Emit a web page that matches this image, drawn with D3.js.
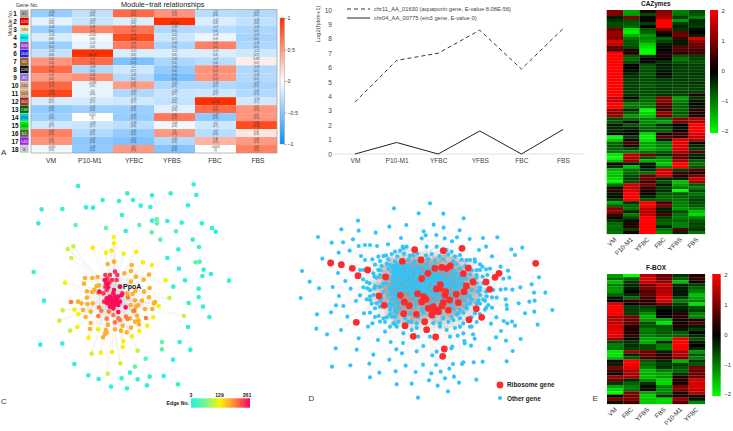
<!DOCTYPE html>
<html><head><meta charset="utf-8">
<script src="https://cdn.jsdelivr.net/npm/d3@7/dist/d3.min.js"></script>
<style>html,body{margin:0;padding:0;background:#fff}svg{display:block}text{font-family:"Liberation Sans",Arial,sans-serif}</style>
</head><body><svg id="c" width="733" height="431"></svg>
<script>
// ---------- Panel A ----------
const traits=["VM","P10-M1","YFBC","YFBS","FBC","FBS"];
const moduleGenes=["81","120","190","664","326","204","55","226","40","240","553","202","118","294","160","51","145","8"];
const moduleColors=["#a8a8a8","#e00000","#f5e6b0","#00ffff","#a040c0","#2020e0","#a0602a","#111111","#9370db","#d2b48c","#d8a878","#a52a2a","#006400","#00ced1","#00ee00","#556b2f","#a020f0","#c8c8c8"];
const moduleTrait=[
[-0.43,-0.26,0.72,0.51,-0.3,-0.32],[-0.11,-0.23,-0.15,1,-0.15,-0.26],[-0.42,0.58,0.67,-0.33,-0.3,-0.35],
[-0.16,-0.052,0.87,-0.21,-0.09,-0.37],[-0.41,-0.11,0.64,-0.35,0.61,-0.34],[-0.25,1,-0.15,-0.15,-0.15,-0.21],
[0.51,0.72,-0.53,-0.35,-0.3,0.085],[0.72,-0.33,-0.2,-0.45,0.53,-0.33],[0.47,0.53,-0.31,-0.55,0.51,-0.32],
[0.73,-0.093,0.47,-0.33,-0.33,-0.37],[0.89,-0.1,-0.33,-0.23,-0.21,-0.32],[-0.17,-0.17,-0.19,-0.25,1,-0.19],
[-0.45,-0.41,-0.42,-0.13,0.71,0.51],[-0.4,0.012,-0.43,0.65,-0.47,0.51],[-0.2,-0.23,-0.28,-0.06,-0.2,0.88],
[0.62,-0.32,-0.45,0.5,-0.3,0.12],[0.51,-0.47,-0.52,-0.32,0.36,0.49],[-0.063,-0.46,0.5,-0.51,-0.0025,0.61]];
const moduleP=[
["0.4","0.6","0.1","0.3","0.6","0.5"],["0.8","0.7","0.8","3e-08","0.8","0.6"],["0.4","0.2","0.1","0.5","0.6","0.5"],
["0.8","0.9","0.02","0.7","0.9","0.5"],["0.4","0.8","0.2","0.5","0.2","0.5"],["0.6","3e-08","0.8","0.8","0.8","0.7"],
["0.3","0.1","0.3","0.5","0.6","0.9"],["0.1","0.5","0.7","0.4","0.3","0.5"],["0.3","0.3","0.5","0.3","0.3","0.5"],
["0.1","0.9","0.3","0.5","0.5","0.5"],["0.02","0.8","0.5","0.7","0.7","0.5"],["0.7","0.7","0.7","0.6","3e-08","0.7"],
["0.4","0.4","0.4","0.8","0.1","0.3"],["0.4","1","0.4","0.2","0.3","0.3"],["0.7","0.7","0.6","0.9","0.7","0.02"],
["0.2","0.5","0.4","0.3","0.6","0.8"],["0.3","0.3","0.3","0.5","0.5","0.3"],["0.9","0.4","0.3","0.3","1","0.2"]];
const corrTicks=[1,0.5,0,-0.5,-1];
// ---------- Panel B ----------
const lineCats=["VM","P10-M1","YFBC","YFBS","FBC","FBS"];
const aquaporin=[3.6,6.5,7,8.6,5.9,8.7];
const ein3=[0,0.8,0,1.6,0,1.7];
const lineNames=["chr11_AA_01630 (aquaporin gene, E-value 8.08E-56)","chr04_AA_00775 (ein3 gene, E-value 0)"];
// ---------- Panel E ----------
const cazCols=["VM","P10-M1","YFBC","FBC","YFBS","FBS"];
const cazymes=[
[1,-1.3,.3,1,-1,-.6],[1,-1.2,-.6,1.2,-.9,-.7],[-.2,1,-.1,1.3,-.5,-1],[-.4,-.6,.1,2,-1.2,-.3],[-.6,-.7,-.5,2,-.5,-.4],[-.6,-.8,0,2,-.3,-.5],
[.9,-1.8,-.7,1,-.4,-.1],[1.2,-1.9,-.8,.2,.8,0],[1.2,-1.4,-1.2,0,.9,-.2],[1,-.9,-1,-.8,.5,1.7],[1.7,-.7,-1.2,-.5,-.2,1.1],[1.6,-.7,-1.6,-.2,-.2,.9],
[.7,-.6,-1.8,-.1,.7,.8],[.7,.3,-2,0,.6,.5],[2,.3,-2,.2,.4,.5],[2,-.7,-.3,.2,-.7,-.5],[2,-.8,.1,0,-.9,-.5],[2,-.6,-.1,-.4,-.7,-.7],
[2,0,-.6,-.2,-.4,-.5],[2,0,-.7,-.3,-.5,-.5],[2,-.1,-.6,-.2,-.5,-.5],[2,-.3,-.7,-.1,-.5,-.4],[2,-.4,-.6,-.2,-.5,-.5],[2,-.5,-.6,-.5,-.5,-.5],
[2,-.5,-.6,-.5,-.5,-.4],[2,-.5,-.7,-.5,-.5,-.5],[2,-.5,-.6,-.5,-.6,-.5],[2,-.5,-.6,-.5,-.5,-.5],[2,-.4,-.6,-.4,-.5,.3],[1.6,-.1,-.8,1,-1.3,-.4],
[1.6,-.5,-.8,1.1,-1,-.2],[2,-1,-1,.7,-.8,0],[2,-.9,-1,.6,-.8,-.2],[1.2,-.3,-2,.5,-.8,.4],[1.1,-.7,-1.7,1.2,-.7,.2],[1.2,-1.2,-1.5,.8,-.8,.2],
[-.6,-.8,-1,-.8,1,1.4],[-.7,0,-1.1,-1.3,1,1.3],[-.2,-.7,-.9,-.3,0,2],[-.3,-.3,-.8,-.6,-.1,2],[-.3,-.1,-.7,-.8,.1,2],[.1,0,-1.7,.2,.5,1.7],
[-2,-.5,-1.9,.7,.4,1.6],[-1.6,.2,-1.8,-.2,1.7,1.4],[-.8,.5,-1.3,-1,1.8,.1],[-.7,.3,-1.3,-1,1.7,-.3],[-.8,-.6,-1.4,-1.2,1.7,-.5],[-.9,-1,-.9,-.7,1.4,.7],
[-1.8,1.5,.9,-.4,.8,-.3],[-2,1.4,-.6,-1,.8,-.2],[-1.5,1.2,-1.4,-1.3,1.3,-.7],[.2,-.2,-.2,-1.6,2,-.9],[-.3,-1.5,-.1,-1,2,-.7],[-1.4,-.9,-.4,1.5,-.5,.7],
[-1.6,-.8,-.9,1.7,.5,.2],[-1.5,-.6,.8,1.6,.3,.9],[-1.7,-.5,.9,-.3,-.2,1.6],[-1.9,-.6,.5,-.7,-1.5,1.3],[-.9,1.6,1,-.2,-1.3,-.7],[-.2,1.6,.4,-.5,-.9,-1],
[.4,1.7,.2,-.4,-2,-.5],[-.2,2,.1,-.7,-.7,-.9],[-.1,2,-.3,-.8,-.8,-.7],[-.5,2,-.7,-.8,-.9,-.5],[-1.3,-.4,2,.6,-1,-.6],[-.8,-.8,2,1,-1,-.7],
[1,-.9,1.5,-.2,-1.2,-1],[1.2,-.3,1.5,-.2,-.6,-1.5],[.5,-1,1.5,.5,-.9,-1.7],[-.1,-.6,2,-.5,-1,-1],[-.4,-.1,2,-.7,-.8,-.7],[-.8,.2,2,-.8,-1,-.5],
[-.9,.3,2,-.3,-1,-.6],[-.8,-.5,2,-.9,.6,-.4],[-.9,.2,2,-1.1,-.3,-.9]];
const fboxCols=["VM","FBC","YFBS","FBS","P10-M1","YFBC"];
const fbox=[
[-1.2,-2,1.4,.8,-.4,.3],[-.9,-.7,1.7,.8,-.7,.4],[-1.5,-.4,1.6,1.2,-1.5,.1],[-1,-.3,.9,1.5,-.3,-.5],[-1.2,-.2,1,1.4,-.2,-.8],[-1.2,0,.6,1.4,-.2,-1],
[-.8,-.3,.8,1.5,-.2,-1.5],[-.2,-.8,.5,1.7,-.5,-1.3],[0,.4,.3,1.7,-1,-1],[1.7,.1,.4,.8,-.5,-1.8],[2,-.5,-.5,-.2,-.3,-.7],[2,-.5,-.7,0,-.2,-.5],
[2,-.5,-1.1,0,.3,-1],[1.3,.9,-1.4,0,.3,-1.1],[1.4,.8,-1.2,-1.3,.2,.3],[1.5,.7,-.6,-1.8,.1,.6],[1.7,.3,-.7,-.7,.3,-.2],[1.8,.3,-1,-.7,-.2,-.5],
[1.8,.2,-.9,-.7,-.7,0],[1.8,.4,-1,-.8,-.8,-.3],[1.2,-.1,-1.3,-1.3,1.8,-.6],[-.6,-.4,-1.4,-.3,2,-.2],[-1,-.4,-.6,-1,2,0],[-.9,-.5,-.6,-1,2,-.3],
[-1.8,1.3,.9,-.3,1.4,-1.2],[-1.8,-.3,.8,.3,1.4,-.7],[-1.5,-.7,.6,.4,1,-1],[.2,2,-.7,-.3,-1.4,-.4],[-.3,2,-.8,-.5,-.5,-.7],[1,1.8,-1,-.4,-.7,1],
[.5,1.4,-1.5,-1,-.8,.8],[.1,1.3,-1.4,-1.3,-.4,.8],[1.2,1.3,-1.5,-1.2,.3,.9],[.8,-.3,-1.1,-1.7,.3,1.7],[-.4,-.8,-.4,-1.7,.2,1.7],[-1.3,-1,-.1,-1,1,1.7],
[-1.7,-.9,.2,-1.1,1,1.5],[-2,1,-1.3,-1,.2,1.5],[.1,.9,-1.6,-.4,.2,.2],[1,1,-1.6,-1.7,1.2,-.2],[-.2,.5,-1.6,-1.7,.7,-1.1]];
const zTicks=[2,1,0,-1,-2];
// ---------- Panel C: network layout (layout units) per Edge No. class ----------
const edgeNoTicks=[3,129,261];
const cGroups=[
{edges:12,pts:[[234,18],[581,13],[382,40],[456,46],[512,40],[589,45],[308,60],[357,63],[399,60],[564,76],[125,88],[187,87],[258,82],[279,83],[451,81],[366,105],[115,130],[377,153],[502,123],[545,128],[606,130],[647,155],[578,179],[535,208],[502,234],[537,266],[555,301],[687,302],[520,320],[596,351],[609,380],[628,411],[101,276],[132,362],[121,494],[187,491],[539,486],[571,509],[519,539],[223,552],[390,578],[449,590],[491,588],[534,613],[296,597],[365,595],[413,598],[441,616],[333,620],[381,625],[265,586],[597,201],[611,269],[607,288],[633,282],[596,326],[564,441],[566,369],[456,122],[636,144],[422,77]]},
{edges:45,pts:[[470,118],[471,130],[481,179],[587,247],[599,245],[227,135],[318,144],[418,135],[455,157],[528,154],[486,486],[486,508],[437,536],[405,560]]},
{edges:105,pts:[[203,207],[220,199],[214,234],[188,391],[178,422],[210,452],[275,521],[361,550],[323,581],[413,512],[552,408],[508,354]]},
{edges:132,pts:[[341,171],[342,190],[278,203],[318,218],[334,212],[371,221],[409,215],[429,247],[456,255],[497,301],[476,378],[460,412],[442,437],[418,453],[396,469],[370,484],[368,501],[195,308],[223,389],[235,403],[266,473],[294,448],[232,441],[302,518],[336,516]]},
{edges:170,pts:[[323,252],[342,245],[395,255],[393,273],[373,280],[447,284],[408,290],[393,305],[431,299],[449,324],[432,335],[255,294],[277,294],[293,291],[252,311],[290,318],[297,316],[261,334],[277,336],[283,329],[261,353],[295,339],[234,365],[244,370],[262,372],[278,370],[249,390],[272,395],[257,411],[272,429],[270,447],[324,434],[345,448],[318,450],[315,462],[320,458],[309,472],[363,452],[380,457],[393,443],[368,437],[415,421],[417,433],[405,425],[390,415],[411,407],[435,387],[457,387],[465,366],[462,370],[447,352],[426,362],[405,361],[392,375],[399,393],[408,380],[415,375],[382,340],[398,342],[406,333]]},
{edges:200,pts:[[213,366],[297,382],[295,408],[304,392],[320,416],[345,427],[403,392],[384,352],[438,414],[355,415],[360,420],[383,417],[378,410],[327,395],[340,405]]},
{edges:236,pts:[[316,285],[322,296],[330,285],[345,275],[352,285],[350,300],[336,300],[318,310],[328,308],[316,320],[320,330],[312,365],[310,340],[367,340],[325,370]]},
{edges:256,pts:[[340,340],[330,350],[320,355],[335,365],[350,360],[345,375],[330,380],[340,385],[355,350],[365,345],[360,365],[335,355],[345,350],[350,370],[340,370],[338,360],[328,362],[345,362],[355,375],[335,375],[320,368],[298,335],[377,382],[355,396],[322,312],[324,322],[314,300],[342,330]]}];
const ppoA={name:"PpoA",edges:261,pt:[360,320]};
// ---------- Panel D: network layout (layout units) ----------
const otherGenes=[[450,70],[342,85],[416,100],[490,101],[551,115],[234,122],[461,134],[379,135],[328,140],[491,143],[184,148],[236,152],[287,158],[431,154],[539,151],[114,171],[219,178],[155,188],[189,187],[437,166],[469,165],[363,174],[494,175],[425,175],[516,184],[531,172],[569,177],[609,174],[652,172],[618,200],[597,210],[694,208],[727,203],[705,225],[636,229],[584,238],[662,260],[684,272],[777,292],[755,313],[721,322],[796,338],[762,338],[817,390],[773,434],[735,400],[763,395],[748,365],[764,362],[716,370],[680,375],[677,358],[697,329],[677,327],[662,329],[688,293],[670,296],[630,266],[618,268],[607,260],[622,285],[608,290],[236,198],[255,195],[270,195],[291,198],[324,193],[368,200],[209,212],[176,218],[243,228],[127,236],[66,273],[174,279],[89,305],[117,325],[158,321],[196,303],[212,326],[62,354],[177,348],[228,363],[168,376],[190,378],[111,403],[153,397],[202,410],[252,400],[109,446],[183,450],[141,463],[264,440],[277,430],[236,475],[167,505],[230,509],[294,480],[280,524],[156,560],[211,556],[268,551],[328,539],[349,508],[366,520],[332,486],[369,489],[415,470],[430,498],[410,514],[457,526],[470,515],[514,505],[517,500],[533,467],[553,483],[554,490],[579,463],[573,497],[584,476],[628,506],[648,472],[663,453],[678,482],[722,477],[698,513],[680,544],[608,545],[581,547],[550,547],[546,552],[519,552],[508,566],[468,555],[429,554],[377,557],[347,574],[298,578],[270,592],[407,576],[454,580],[482,575],[495,595],[522,590],[537,608],[589,599],[447,601],[395,611],[350,613],[473,617],[504,634],[414,653],[705,437],[696,425],[671,423],[682,430],[633,431],[649,412],[681,387],[636,383],[619,383],[615,362],[636,352],[650,353],[618,335],[640,330],[600,330],[590,310],[610,310],[590,370],[585,400],[570,370],[560,385],[535,400],[520,420],[540,440],[500,450],[480,430],[550,460],[570,440],[510,470],[450,470],[395,450],[370,460],[315,455],[345,433],[330,440],[300,425],[296,408],[320,412],[335,410],[355,425],[410,430],[385,425],[460,410],[480,400],[250,270],[262,272],[277,238],[295,230],[310,228],[255,240],[240,270],[249,298],[283,290],[268,310],[262,325],[283,325],[300,320],[320,310],[303,355],[280,345],[270,360],[290,370],[300,380],[330,380],[345,395],[330,370],[300,270],[330,255],[345,215],[360,212],[370,205],[380,200],[400,225],[440,200],[470,200],[500,210],[515,215],[540,225],[560,240],[570,240],[600,270],[590,285],[575,270],[540,290],[530,300],[510,295],
[318,226],[335,222],[352,229],[372,221],[390,227],[412,220],[438,226],[455,222],[478,228],[505,224],[525,229],
[300,243],[325,238],[345,244],[385,239],[405,245],[445,238],[465,243],[490,237],[520,244],[545,239],[585,245],
[285,254],[305,258],[320,251],[340,258],[360,252],[380,257],[400,251],[420,259],[440,253],[460,257],[530,252],[555,258],[600,253],
[295,270],[325,266],[345,271],[362,265],[378,272],[395,266],[415,270],[435,265],[455,271],[475,267],[520,271],[540,265],[590,270],
[280,280],[300,285],[345,279],[360,286],[375,280],[390,284],[410,279],[445,285],[460,280],[475,286],[495,279],[515,285],[530,280],[570,284],
[290,293],[335,298],[350,292],[365,297],[380,293],[395,298],[410,292],[440,297],[455,293],[470,298],[490,292],[505,297],[525,294],[545,297],[590,293],
[260,306],[310,311],[340,305],[355,310],[370,306],[385,311],[400,305],[415,310],[430,306],[445,311],[460,305],[495,310],[515,306],[535,311],
[250,322],[285,318],[330,323],[350,317],[365,322],[380,318],[395,323],[410,317],[425,322],[440,318],[455,323],[500,317],[520,322],[540,319],[600,322],
[270,331],[310,336],[330,330],[345,335],[380,331],[395,336],[430,330],[445,335],[460,331],[510,336],[575,330],[595,335],
[240,346],[270,349],[325,345],[345,349],[395,345],[410,349],[460,346],[475,349],[555,346],[570,349],[600,345],[620,349],
[260,358],[300,363],[335,358],[350,362],[405,358],[460,363],[480,358],[555,363],[575,358],[595,362],[610,359],
[275,371],[340,375],[355,371],[405,375],[420,371],[450,375],[515,371],[560,375],[600,371],[625,375],
[285,385],[330,389],[350,385],[425,389],[520,385],[540,389],[560,385],[615,389],
[270,398],[330,403],[350,398],[390,402],[430,398],[530,403],[550,398],[600,402],
[285,411],[310,415],[345,411],[375,415],[415,411],[490,415],[515,411],[540,415],[575,411],
[315,426],[340,430],[395,426],[460,430],[505,426],[550,430],[590,426],
[350,440],[410,444],[480,440],[525,444],[575,440],
[340,262],[350,266],[358,258],[368,262],[348,254],[338,276],[352,274],[344,286],[356,280],[366,276],[338,290],[372,288],[384,276],[392,290],[402,298],[408,286],[418,300],[426,314],[434,302],[448,304],[462,312],[472,318],[438,326],[418,326],[402,316],[392,306],[376,300],[360,302],[350,310],[342,320],[358,328],[374,314],[388,326],[404,332],[420,336],[436,340],[452,342],[468,340],[480,304],[490,296],[500,304],[508,316],[490,320],[478,292],[466,288],[452,276],[440,270],[428,282],[418,274],[406,266],[396,278],[386,262],[372,254],[442,312],[456,300],[412,344],[392,340],[366,332],[352,342],[338,342],[524,316],[530,328],[548,308],[558,296],[520,350],[540,362],[580,300],[560,340]];
const ribosomeGenes=[[152,249],[184,254],[217,265],[234,287],[263,270],[317,291],[404,209],[490,212],[546,205],[367,244],[423,240],[767,250],[657,280],[645,292],[618,306],[629,328],[579,306],[559,318],[550,281],[565,264],[511,258],[500,265],[485,262],[465,265],[444,280],[425,296],[481,314],[469,327],[529,343],[552,335],[535,368],[509,360],[495,345],[480,325],[497,335],[413,341],[361,346],[297,348],[373,366],[388,377],[313,376],[371,401],[409,403],[425,366],[438,358],[431,350],[445,385],[460,380],[470,390],[490,368],[486,378],[505,391],[455,405],[475,395],[589,386],[605,412],[567,419],[434,425],[440,449],[375,437],[229,427],[400,469],[467,471],[493,507],[488,529],[460,395]];

const svg=d3.select("#c");
const FS=(s,t,x,y,size,opt={})=>s.append("text").attr("x",x).attr("y",y).attr("font-size",size).attr("fill",opt.fill||"#222").attr("text-anchor",opt.anchor||"start").attr("font-weight",opt.weight||"normal").attr("dominant-baseline","central").attr("transform",opt.rot!=null?`rotate(${opt.rot} ${x} ${y})`:null).text(t);

// Panel A
(function(){
 const g=svg.append("g");
 const x=d3.scaleBand().domain(traits).range([31,277]);
 const y=d3.scaleBand().domain(d3.range(18)).range([9.5,153]);
 const col=d3.scaleLinear().domain([-1,0,1]).range(["#0f8cff","#ffffff","#ff3000"]);
 moduleTrait.forEach((row,i)=>row.forEach((v,j)=>{
  const cx=x(traits[j]),cy=y(i);
  g.append("rect").attr("x",cx).attr("y",cy).attr("width",x.bandwidth()).attr("height",y.bandwidth()).attr("fill",col(v));
  FS(g,v,cx+x.bandwidth()/2,cy+y.bandwidth()*.32,2.6,{anchor:"middle",fill:"#333"});
  FS(g,"("+moduleP[i][j]+")",cx+x.bandwidth()/2,cy+y.bandwidth()*.72,2.6,{anchor:"middle",fill:"#333"});
 }));
 g.append("rect").attr("x",31).attr("y",9.5).attr("width",246).attr("height",143.5).attr("fill","none").attr("stroke","#9a9a9a").attr("stroke-width",.7);
 moduleGenes.forEach((t,i)=>{
  g.append("rect").attr("x",20).attr("y",y(i)+.2).attr("width",8.6).attr("height",y.bandwidth()-.4).attr("fill",moduleColors[i]);
  const dark=["#e00000","#a040c0","#2020e0","#a0602a","#111111","#9370db","#a52a2a","#006400","#556b2f","#a020f0"].includes(moduleColors[i]);
  FS(g,t,24.3,y(i)+y.bandwidth()/2,4.4,{anchor:"middle",fill:dark?"#eee":"#444"});
  FS(g,i+1,15,y(i)+y.bandwidth()/2,6.4,{anchor:"middle",weight:"bold",fill:"#111"});
 });
 FS(g,"Gene No.",16,4.5,5.2,{fill:"#333"});
 FS(g,"Module No.",10,23,5.2,{anchor:"middle",rot:-90,fill:"#333"});
 FS(g,"Module\u2212trait relationships",121,4.5,7.3,{fill:"#222"});
 traits.forEach((t,j)=>FS(g,t,[51,90,134,172,215,258][j],160.5,6.8,{anchor:"middle",fill:"#333"}));
 FS(g,"A",1,152,8,{fill:"#333"});
 const cy=d3.scaleLinear().domain([1,-1]).range([18,144]);
 const defs=svg.append("defs");
 const gr=defs.append("linearGradient").attr("id","cb").attr("x1",0).attr("x2",0).attr("y1",0).attr("y2",1);
 [1,.5,0,-.5,-1].forEach((v,i)=>gr.append("stop").attr("offset",i/4).attr("stop-color",col(v)));
 g.append("rect").attr("x",280).attr("y",18).attr("width",4.4).attr("height",126).attr("fill","url(#cb)").attr("stroke","#888").attr("stroke-width",.4);
 const ax=g.append("g").attr("transform","translate(284.4,0)").call(d3.axisRight(cy).tickValues(corrTicks).tickSize(2).tickFormat(d=>d<0?"\u2212"+(-d):d));
 ax.select(".domain").remove();ax.selectAll("line").attr("stroke","#555").attr("stroke-width",.5);
 ax.selectAll("text").attr("font-size",5.4).attr("fill","#333").attr("x",3);
})();

// Panel B
(function(){
 const g=svg.append("g");
 const x=d3.scalePoint().domain(lineCats).range([355,563]);
 const y=d3.scaleLinear().domain([0,10]).range([154,10]);
 const axL=g.append("g").attr("transform","translate(334,0)").call(d3.axisLeft(y).ticks(10).tickSize(0));
 axL.select(".domain").remove();axL.selectAll("text").attr("font-size",6.6).attr("fill","#444").attr("x",-2);
 const axB=g.append("g").attr("transform","translate(0,154)").call(d3.axisBottom(x).tickSize(0));
 axB.select(".domain").attr("stroke","#e2e2e2").attr("d","M335,0H585");
 axB.selectAll("text").attr("font-size",6.6).attr("fill","#444").attr("y",4);
 FS(g,"Log2(fpkm+1)",318,24,6,{anchor:"middle",rot:-90,fill:"#444"});
 const ln=d3.line().x((d,i)=>x(lineCats[i])).y(d=>y(d));
 g.append("path").attr("d",ln(aquaporin)).attr("fill","none").attr("stroke","#222").attr("stroke-width",.9).attr("stroke-dasharray","4 3");
 g.append("path").attr("d",ln(ein3)).attr("fill","none").attr("stroke","#222").attr("stroke-width",1);
 g.append("line").attr("x1",347).attr("x2",370).attr("y1",9).attr("y2",9).attr("stroke","#222").attr("stroke-width",.9).attr("stroke-dasharray","4 3");
 g.append("line").attr("x1",347).attr("x2",370).attr("y1",18).attr("y2",18).attr("stroke","#222").attr("stroke-width",1);
 FS(g,lineNames[0],374,9,5.75,{fill:"#444"});
 FS(g,lineNames[1],374,18,5.75,{fill:"#444"});
})();

// Panel C
(function(){
 const g=svg.append("g");
 const x=d3.scaleLinear().domain([0,840]).range([0,280]);
 const y=d3.scaleLinear().domain([0,753]).range([180,431]);
 const stops=[[3,"#22f2e2"],[70,"#7cf58a"],[129,"#f6f500"],[175,"#ffa630"],[225,"#ff4a50"],[261,"#ff0060"]];
 const col=d3.scaleLinear().domain(stops.map(d=>d[0])).range(stops.map(d=>d[1]));
 const hubs=cGroups[7].pts;
 const el=g.append("g").attr("stroke","#c4c4c4").attr("stroke-width",.4);
 cGroups.forEach(gp=>gp.pts.forEach((p,i)=>{
  const n=gp.edges<60?1:4;
  for(let k=0;k<n;k++){const h=hubs[(i*5+k*9)%hubs.length];
   el.append("line").attr("x1",x(p[0])).attr("y1",y(p[1])).attr("x2",x(h[0])).attr("y2",y(h[1])).attr("stroke-opacity",gp.edges<60?.07:.2);}
 }));
 cGroups.forEach(gp=>gp.pts.forEach(p=>{
  g.append("circle").attr("cx",x(p[0])).attr("cy",y(p[1])).attr("r",2.3).attr("fill",col(gp.edges));
 }));
 g.append("circle").attr("cx",x(ppoA.pt[0])).attr("cy",y(ppoA.pt[1])).attr("r",2.3).attr("fill","#d6145f").attr("stroke","#555").attr("stroke-width",.3);
 FS(g,ppoA.name,x(ppoA.pt[0])+3,y(ppoA.pt[1]),7,{weight:"bold",fill:"#111"});
 FS(g,"C",1,401,8,{fill:"#333"});
 const defs=svg.append("defs");
 const gr=defs.append("linearGradient").attr("id","edgeBar");
 stops.forEach(s=>gr.append("stop").attr("offset",(s[0]-3)/258).attr("stop-color",s[1]));
 g.append("rect").attr("x",191).attr("y",398.3).attr("width",59).attr("height",9.4).attr("fill","url(#edgeBar)");
 [[3,191],[129,219.5],[261,247]].forEach(d=>FS(g,d[0],d[1],394.5,5.2,{anchor:"middle",weight:"bold",fill:"#222"}));
 FS(g,"Edge No.",189,403,5.2,{anchor:"end",weight:"bold",fill:"#222"});
})();

// Panel D
(function(){
 const g=svg.append("g");
 const x=d3.scaleLinear().domain([0,840]).range([280,560]);
 const y=d3.scaleLinear().domain([0,753]).range([180,431]);
 const all=otherGenes.concat(ribosomeGenes);
 const inEll=(p,rx,ry)=>((p[0]-440)/rx)**2+((p[1]-330)/ry)**2<1;
 const hubs=otherGenes.filter(p=>inEll(p,170,130));
 const el=g.append("g").attr("stroke","#989898").attr("stroke-width",.3);
 all.forEach((p,i)=>{
  const inner=inEll(p,190,140);
  const n=inner?14:5;
  for(let k=0;k<n;k++){const h=hubs[(i*7+k*13)%hubs.length];
   el.append("line").attr("x1",x(p[0])).attr("y1",y(p[1])).attr("x2",x(h[0])).attr("y2",y(h[1])).attr("stroke-opacity",inner?.2:.06);}
 });
 g.selectAll(".o").data(otherGenes).join("circle").attr("cx",d=>x(d[0])).attr("cy",d=>y(d[1])).attr("r",2.05).attr("fill","#2fc5fb");
 g.selectAll(".r").data(ribosomeGenes).join("circle").attr("cx",d=>x(d[0])).attr("cy",d=>y(d[1])).attr("r",3.4).attr("fill","#fb2b2f");
 g.append("circle").attr("cx",x(660)).attr("cy",y(615)).attr("r",3.4).attr("fill","#fb2b2f");
 g.append("circle").attr("cx",x(660)).attr("cy",y(654)).attr("r",2.05).attr("fill","#2fc5fb");
 FS(g,"Ribosome gene",507,384,6.4,{weight:"bold",fill:"#222"});
 FS(g,"Other gene",507,398,6.4,{weight:"bold",fill:"#222"});
 FS(g,"D",308.5,398,8,{fill:"#333"});
})();

// Panel E
function heat(rows,cols,title,box,bar,labY,titleY,idn){
 const g=svg.append("g");
 const x=d3.scaleBand().domain(d3.range(6)).range([box[0],box[1]]);
 const y=d3.scaleBand().domain(d3.range(rows.length)).range([box[2],box[3]]);
 const col=d3.scaleLinear().domain([-2,0,2]).range(["#00ff00","#000000","#ff0000"]);
 rows.forEach((r,i)=>r.forEach((v,j)=>g.append("rect").attr("x",x(j)).attr("y",y(i)).attr("width",x.bandwidth()+.1).attr("height",y.bandwidth()+.1).attr("fill",col(v))));
 cols.forEach((c,j)=>{const cx=x(j)+x.bandwidth()/2+2;
  g.append("text").attr("font-size",6.4).attr("fill","#333").attr("text-anchor","end").attr("transform",`translate(${cx},${labY}) rotate(-45)`).text(c);});
 FS(g,title,(box[0]+box[1])/2,titleY,6.4,{anchor:"middle",weight:"bold",fill:"#111"});
 const gr=svg.append("defs").append("linearGradient").attr("id",idn).attr("x1",0).attr("x2",0).attr("y1",0).attr("y2",1);
 [2,0,-2].forEach((v,i)=>gr.append("stop").attr("offset",i/2).attr("stop-color",col(v)));
 g.append("rect").attr("x",bar[0]).attr("y",bar[1]).attr("width",bar[2]).attr("height",bar[3]-bar[1]).attr("fill","url(#"+idn+")");
 const cy=d3.scaleLinear().domain([2,-2]).range([bar[1]+1,bar[3]-2]);
 const ax=g.append("g").attr("transform",`translate(${bar[0]+bar[2]},0)`).call(d3.axisRight(cy).tickValues(zTicks).tickSize(0).tickFormat(d=>d<0?"\u2212"+(-d):d));
 ax.select(".domain").remove();ax.selectAll("text").attr("font-size",6).attr("fill","#333").attr("x",3.5);
}
heat(cazymes,cazCols,"CAZymes",[606.7,705,10,234],[710,10,8,133],240,3.5,"zc");
heat(fbox,fboxCols,"F-BOX",[607,705,274,404],[712.3,274,8.4,396],410,267.5,"zf");
FS(svg,"E",592.5,398,8,{fill:"#333"});
</script></body></html>
